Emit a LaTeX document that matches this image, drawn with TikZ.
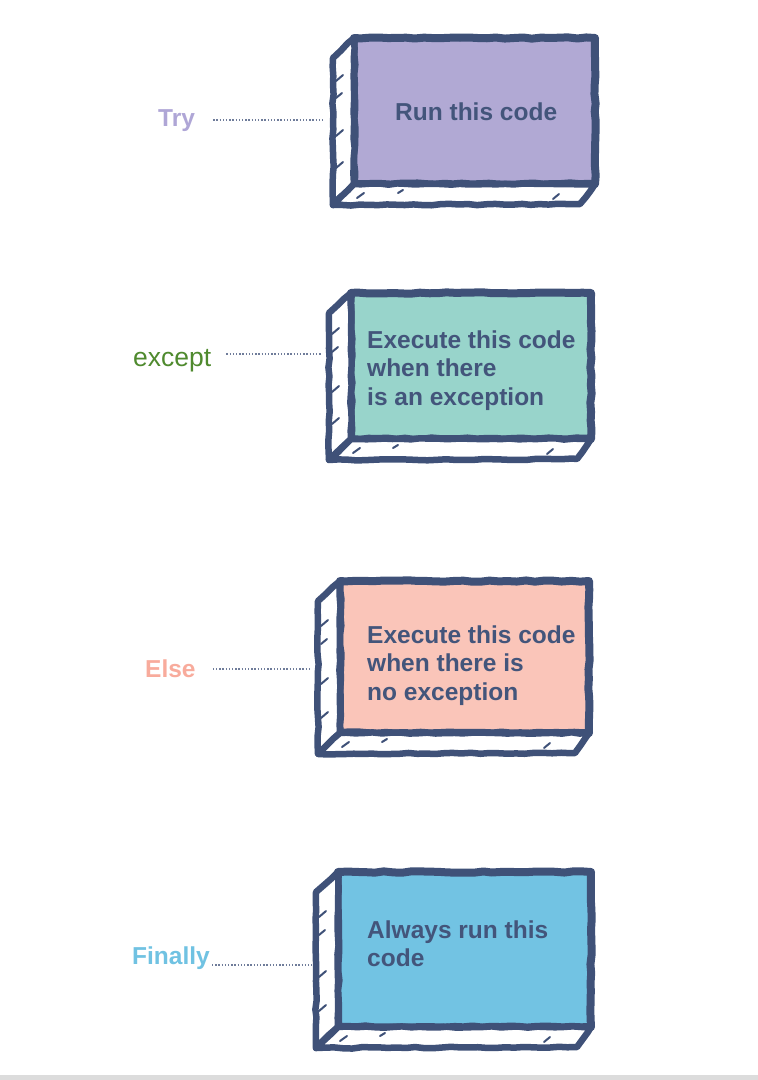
\documentclass[tikz,border=0pt]{standalone}
\usepackage{fontspec}
\setmainfont{Liberation Sans}
\usetikzlibrary{calc, positioning, decorations.pathmorphing}

\definecolor{navy}{HTML}{3F5178}
\definecolor{boxink}{HTML}{43557B}
\definecolor{tryfill}{HTML}{B1A9D4}
\definecolor{trylabel}{HTML}{AFA6D6}
\definecolor{exceptfill}{HTML}{98D4CB}
\definecolor{exceptlabel}{HTML}{4F8A2E}
\definecolor{elsefill}{HTML}{FAC5B9}
\definecolor{elselabel}{HTML}{F8AB9C}
\definecolor{finfill}{HTML}{72C3E3}
\definecolor{finlabel}{HTML}{70C2E2}
\definecolor{barcol}{HTML}{DCDCDC}

\begin{document}
\begin{tikzpicture}[
    x=1pt, y=-1pt,
    rough/.style={decorate, decoration={random steps, segment length=9pt, amplitude=0.7pt}},
    face/.style={draw=navy, line width=8pt, outer sep=0pt, inner sep=0pt, line join=round, rough},
    side/.style={draw=navy, fill=white, line width=6.5pt, line join=round, rough},
    tick/.style={navy, line width=2pt, line cap=round},
    boxtext/.style={text=boxink, font=\bfseries\fontsize{24.5}{28.5}\selectfont, align=left, inner sep=0pt, anchor=north west},
    lbl/.style={font=\bfseries\fontsize{24.5}{28}\selectfont, inner sep=0pt, anchor=base west},
    link/.style={navy!75, line width=1.4pt, dash pattern=on 1.4pt off 1.8pt}
]
    \useasboundingbox (0,0) rectangle (758,1080);

    % 1. Try
    \node[face, fill=tryfill, minimum width=241, minimum height=146] (tryface) at (474.5,111) {};
    \draw[side] (tryface.north west) -- ++(-21,20) -- ($(tryface.south west)+(-21,21)$) -- (tryface.south west) -- cycle;
    \draw[side] (tryface.south west) -- ++(-21,21) -- ($(tryface.south east)+(-15,20)$) -- (tryface.south east) -- cycle;
    \draw[tick] ($(tryface.north west)+(-18,43)$) -- ++(7,-6)
                ($(tryface.north west)+(-18,60)$) -- ++(6,-5)
                ($(tryface.north west)+(-18,98)$) -- ++(7,-6)
                ($(tryface.north west)+(-18,130)$) -- ++(7,-6)
                ($(tryface.south west)+(3,14)$) -- ++(7,-5)
                ($(tryface.south west)+(44,9)$) -- ++(5,-3)
                ($(tryface.south west)+(199,15)$) -- ++(6,-5);
    \node[boxtext] (trytext) at (395,102.5) {Run this code};
    \node[lbl, text=trylabel] (trylbl) at (158,126) {Try};
    \coordinate (tryend) at (322,120);
    \draw[link, shorten <=18pt] (trylbl.east |- tryend) -- (tryend);

    % 2. except
    \node[face, fill=exceptfill, minimum width=240, minimum height=146] (exceptface) at (471,366) {};
    \draw[side] (exceptface.north west) -- ++(-22,20) -- ($(exceptface.south west)+(-22,21)$) -- (exceptface.south west) -- cycle;
    \draw[side] (exceptface.south west) -- ++(-22,21) -- ($(exceptface.south east)+(-14,20)$) -- (exceptface.south east) -- cycle;
    \draw[tick] ($(exceptface.north west)+(-19,41)$) -- ++(7,-6)
                ($(exceptface.north west)+(-19,59)$) -- ++(6,-5)
                ($(exceptface.north west)+(-19,99)$) -- ++(7,-6)
                ($(exceptface.north west)+(-19,131)$) -- ++(7,-6)
                ($(exceptface.south west)+(2,14)$) -- ++(7,-5)
                ($(exceptface.south west)+(42,9)$) -- ++(5,-3)
                ($(exceptface.south west)+(196,15)$) -- ++(6,-5);
    \node[boxtext] (excepttext) at (367,330.5) {Execute this code\\when there\\is an exception};
    \node[lbl, text=exceptlabel, font=\fontsize{26.5}{30}\selectfont] (exceptlbl) at (133,366) {except};
    \coordinate (exceptend) at (322,354);
    \draw[link, shorten <=15pt] (exceptlbl.east |- exceptend) -- (exceptend);

    % 3. Else
    \node[face, fill=elsefill, minimum width=249, minimum height=152] (elseface) at (464.5,657) {};
    \draw[side] (elseface.north west) -- ++(-22,20) -- ($(elseface.south west)+(-22,21)$) -- (elseface.south west) -- cycle;
    \draw[side] (elseface.south west) -- ++(-22,21) -- ($(elseface.south east)+(-14,20)$) -- (elseface.south east) -- cycle;
    \draw[tick] ($(elseface.north west)+(-19,45)$) -- ++(7,-6)
                ($(elseface.north west)+(-19,63)$) -- ++(6,-5)
                ($(elseface.north west)+(-19,103)$) -- ++(7,-6)
                ($(elseface.north west)+(-19,137)$) -- ++(7,-6)
                ($(elseface.south west)+(2,14)$) -- ++(7,-5)
                ($(elseface.south west)+(42,9)$) -- ++(5,-3)
                ($(elseface.south west)+(204,15)$) -- ++(6,-5);
    \node[boxtext] (elsetext) at (367,625.5) {Execute this code\\when there is\\no exception};
    \node[lbl, text=elselabel] (elselbl) at (145,677) {Else};
    \coordinate (elseend) at (310,669);
    \draw[link, shorten <=17pt] (elselbl.east |- elseend) -- (elseend);

    % 4. Finally
    \node[face, fill=finfill, minimum width=253, minimum height=155] (finface) at (464.5,949.5) {};
    \draw[side] (finface.north west) -- ++(-22,20) -- ($(finface.south west)+(-22,21)$) -- (finface.south west) -- cycle;
    \draw[side] (finface.south west) -- ++(-22,21) -- ($(finface.south east)+(-14,20)$) -- (finface.south east) -- cycle;
    \draw[tick] ($(finface.north west)+(-19,45)$) -- ++(7,-6)
                ($(finface.north west)+(-19,63)$) -- ++(6,-5)
                ($(finface.north west)+(-19,105)$) -- ++(7,-6)
                ($(finface.north west)+(-19,139)$) -- ++(7,-6)
                ($(finface.south west)+(2,14)$) -- ++(7,-5)
                ($(finface.south west)+(42,9)$) -- ++(5,-3)
                ($(finface.south west)+(206,15)$) -- ++(6,-5);
    \node[boxtext] (fintext) at (367,920.5) {Always run this\\code};
    \node[lbl, text=finlabel] (finlbl) at (132,964) {Finally};
    \coordinate (finend) at (312,965);
    \draw[link, shorten <=2pt] (finlbl.east |- finend) -- (finend);

    % 5. Barra cinza no rodape
    \fill[barcol] (0,1075) rectangle (758,1080);

\end{tikzpicture}
\end{document}
